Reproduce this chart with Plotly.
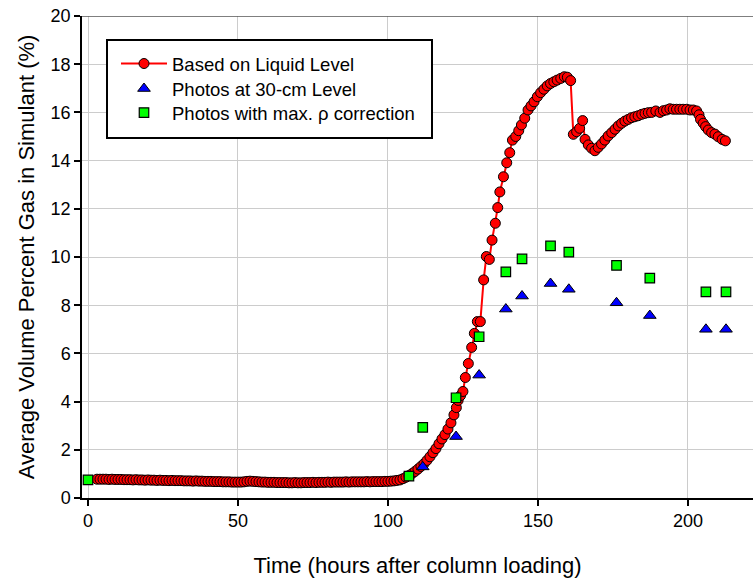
import plotly.graph_objects as go

# ---------------- data ----------------
liquid_t = [3, 4, 5, 6, 7, 8, 9, 10,
            11, 12, 13, 14, 15, 16, 17, 18, 19, 20,
            21, 22, 23, 24, 25, 26, 27, 28, 29, 30,
            31, 32, 33, 34, 35, 36, 37, 38, 39, 40,
            41, 42, 43, 44, 45, 46, 47, 48, 49, 50,
            51, 52, 53, 54, 55, 56, 57, 58, 59, 60,
            61, 62, 63, 64, 65, 66, 67, 68, 69, 70,
            71, 72, 73, 74, 75, 76, 77, 78, 79, 80,
            81, 82, 83, 84, 85, 86, 87, 88, 89, 90,
            91, 92, 93, 94, 95, 96, 97, 98, 99, 100,
            101, 102, 103,
            104, 105, 106, 107, 108, 109, 110, 111, 112, 113,
            114, 115, 116, 117, 118, 119, 120, 121, 122, 122.8,
            123.4, 124.2, 125, 125.8, 126.8, 127.9, 128.8, 129.8, 130.8, 131.9,
            132.8, 133.8, 134.7, 135.8, 136.6, 137.3, 138.5, 139.6, 140.6, 141.5,
            142.6, 143.6, 144.5, 145.6, 146.7, 147.7, 148.7, 149.8, 150.9, 152,
            153.1, 154.2, 155.3, 156.4, 157.6, 158.8, 159.8, 160.9, 161.8, 162.9,
            163.9, 164.9, 165.7, 166.8, 167.9, 169, 170.1, 171.2, 172.3, 173.4,
            174.6, 175.7, 176.8, 177.9, 179, 180.1, 181.2, 182.3, 183.4, 184.6,
            185.7, 186.8, 187.9, 189.3, 190.7, 191.8, 192.9, 194, 195.1, 196.2,
            197.3, 198.4, 199.6, 200.7, 201.8, 202.9, 203.7, 204.2, 205.1, 205.9,
            206.8, 207.9, 209, 210.1, 211.4, 212.5]
liquid_v = [0.78, 0.78, 0.78, 0.78, 0.77, 0.78, 0.77, 0.77,
            0.77, 0.76, 0.76, 0.76, 0.75, 0.76, 0.75, 0.75, 0.74, 0.75,
            0.74, 0.74, 0.73, 0.74, 0.73, 0.73, 0.72, 0.73, 0.72, 0.72,
            0.72, 0.71, 0.71, 0.71, 0.70, 0.71, 0.70, 0.70, 0.69, 0.69,
            0.69, 0.68, 0.68, 0.68, 0.67, 0.67, 0.67, 0.66, 0.66, 0.66,
            0.66, 0.67, 0.69, 0.70, 0.69, 0.68, 0.67, 0.66, 0.66, 0.65,
            0.65, 0.65, 0.64, 0.64, 0.64, 0.64, 0.63, 0.63, 0.64, 0.63,
            0.63, 0.64, 0.64, 0.64, 0.65, 0.64, 0.65, 0.65, 0.65, 0.66,
            0.65, 0.66, 0.66, 0.66, 0.66, 0.67, 0.66, 0.67, 0.67, 0.67,
            0.67, 0.67, 0.68, 0.67, 0.68, 0.68, 0.68, 0.68, 0.69, 0.69,
            0.70, 0.71, 0.73,
            0.75, 0.80, 0.86, 0.93, 1.01, 1.10, 1.20, 1.31, 1.42, 1.56,
            1.71, 1.88, 2.05, 2.25, 2.45, 2.63, 2.86, 3.12, 3.45, 3.75,
            4.05, 4.25, 4.42, 5.00, 5.58, 6.25, 6.83, 7.32, 7.32, 9.05,
            10.02, 9.90, 10.70, 11.40, 12.05, 12.70, 13.33, 13.91, 14.33, 14.85,
            15.00, 15.24, 15.48, 15.76, 16.10, 16.27, 16.44, 16.65, 16.82, 16.96,
            17.10, 17.20, 17.27, 17.34, 17.41, 17.48, 17.46, 17.32, 15.09, 15.20,
            15.34, 15.66, 14.88, 14.65, 14.51, 14.41, 14.55, 14.69, 14.85, 15.02,
            15.16, 15.30, 15.44, 15.55, 15.64, 15.71, 15.78, 15.82, 15.86, 15.92,
            15.96, 15.99, 16.00, 16.06, 16.00, 16.07, 16.10, 16.15, 16.13, 16.13,
            16.13, 16.13, 16.13, 16.10, 16.10, 16.06, 15.90, 15.71, 15.55, 15.41,
            15.27, 15.16, 15.10, 14.99, 14.88, 14.82]

photo_t = [111.6, 122.7, 130.4, 139.3, 144.7, 154.2, 160.3, 176.2, 187.3, 206.0, 212.7]
photo_v = [1.29, 2.55, 5.10, 7.84, 8.38, 8.90, 8.66, 8.10, 7.57, 7.00, 7.00]

corr_t = [0.0, 107.0, 111.6, 122.7, 130.4, 139.3, 144.7, 154.2, 160.3, 176.2, 187.3, 206.0, 212.7]
corr_v = [0.75, 0.91, 2.93, 4.16, 6.69, 9.38, 9.92, 10.46, 10.20, 9.65, 9.12, 8.55, 8.55]

x_ticks = [0, 50, 100, 150, 200]
y_ticks = [0, 2, 4, 6, 8, 10, 12, 14, 16, 18, 20]

names = ["Based on Liquid Level", "Photos at 30-cm Level", "Photos with max. \u03c1 correction"]
x_title = "Time (hours after column loading)"
y_title = "Average Volume Percent Gas in Simulant (%)"

FONT = "Arial, Liberation Sans, sans-serif"

fig = go.Figure()
fig.add_trace(go.Scatter(
    x=liquid_t, y=liquid_v, mode="lines+markers", name=names[0], legend="legend",
    line=dict(color="#ff0000", width=2),
    marker=dict(symbol="circle", size=10, color="#ff0000", line=dict(color="black", width=1)),
))
fig.add_trace(go.Scatter(
    x=photo_t, y=photo_v, mode="markers", name=names[1], legend="legend2",
    marker=dict(symbol="triangle-up", size=11, color="#0000ff", line=dict(color="black", width=1)),
))
fig.add_trace(go.Scatter(
    x=corr_t, y=corr_v, mode="markers", name=names[2], legend="legend3",
    marker=dict(symbol="square", size=9.5, color="#00ff00", line=dict(color="black", width=1.2)),
))

W, H = 753, 580
ML, MR, MT, MB = 82, 0, 16, 82
PW, PH = W - ML - MR, H - MT - MB

def px(xp):
    return (xp - ML) / PW

def py(yp):
    return (H - MB - yp) / PH

def leg(top):
    return dict(
        x=px(116), y=py(top), xanchor="left", yanchor="top",
        bgcolor="rgba(0,0,0,0)", borderwidth=0,
        font=dict(size=18.5, family=FONT, color="black"),
        itemwidth=46,
    )

fig.update_layout(
    width=W, height=H,
    margin=dict(l=ML, r=MR, t=MT, b=MB),
    paper_bgcolor="white", plot_bgcolor="white",
    font=dict(family=FONT, color="black"),
    showlegend=True,
    legend=leg(45), legend2=leg(70), legend3=leg(94),
    shapes=[
        dict(type="rect", xref="paper", yref="paper",
             x0=px(107), x1=px(432), y0=py(138), y1=py(40),
             fillcolor="white", line=dict(color="black", width=2), layer="above"),
        dict(type="line", xref="paper", yref="y", x0=0, x1=1, y0=20, y1=20,
             line=dict(color="#555555", width=1.5), layer="above"),
    ],
)

fig.update_xaxes(
    range=[-2, 221.7], tickvals=x_ticks, ticktext=[str(v) for v in x_ticks],
    showgrid=True, gridcolor="#cccccc", gridwidth=1, zeroline=False,
    showline=True, linecolor="black", linewidth=1.5,
    ticks="outside", ticklen=6, tickwidth=1.5, tickcolor="black",
    tickfont=dict(size=18, family=FONT),
    title=dict(text=x_title, font=dict(size=22, family=FONT), standoff=27),
)
fig.update_yaxes(
    range=[0, 20], tickvals=y_ticks, ticktext=[str(v) for v in y_ticks],
    showgrid=True, gridcolor="#cccccc", gridwidth=1, zeroline=False,
    showline=True, linecolor="black", linewidth=1.5,
    ticks="outside", ticklen=6, tickwidth=1.5, tickcolor="black",
    tickfont=dict(size=18, family=FONT),
    title=dict(text=y_title, font=dict(size=22, family=FONT), standoff=10),
)

fig.write_html("out.html")
